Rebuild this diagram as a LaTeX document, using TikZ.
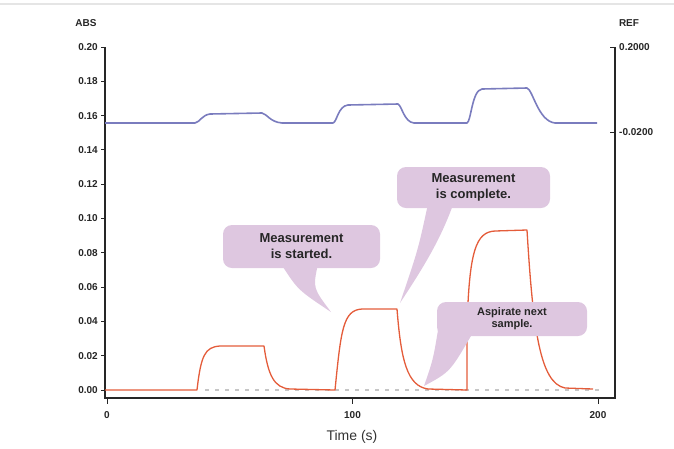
\documentclass[tikz,border=0pt]{standalone}
\usepackage{fontspec}
\setmainfont{Liberation Sans}
\usetikzlibrary{calc}

\definecolor{calloutpink}{RGB}{222,199,224}
\definecolor{refblue}{RGB}{122,124,190}
\definecolor{absred}{RGB}{228,92,58}

\begin{document}
\begin{tikzpicture}[
  x=1pt, y=-1pt,
  every node/.style={inner sep=1pt},
  ticklab/.style={font=\fontsize{10}{11}\selectfont\bfseries, text=black!85},
  axisline/.style={line width=1.4pt, black!85},
  tickmark/.style={line width=0.9pt, black!85},
  refline/.style={line width=1.6pt, refblue, line join=round},
  absline/.style={line width=1.3pt, absred, line join=round},
  callout/.style={fill=calloutpink, rounded corners=9pt, align=center, text=black!85,
    font=\fontsize{13}{16}\selectfont\bfseries},
  tail/.style={fill=calloutpink}
]
  \useasboundingbox (0,0) rectangle (674,448);
  \draw[gray!20, line width=1.5pt] (0,4) -- (674,4);

  % axes
  \draw[axisline] (105,47) -- (105,399);
  \draw[axisline] (615,47) -- (615,399);
  \draw[axisline, line width=2pt] (104,398) -- (616,398);
  \foreach \i/\lab in {0/0.00,1/0.02,2/0.04,3/0.06,4/0.08,5/0.10,6/0.12,7/0.14,8/0.16,9/0.18,10/0.20} {
    \draw[tickmark] (101,{390-34.3*\i}) -- (105,{390-34.3*\i});
    \node[ticklab, anchor=east] (ylab\i) at (99,{390-34.3*\i}) {\lab};
  }
  \foreach \t/\lab in {0/0,100/100,200/200} {
    \draw[tickmark] ({107+2.455*\t},398) -- ({107+2.455*\t},404);
    \node[ticklab] (xlab\t) at ({107+2.455*\t},415) {\lab};
  }
  \draw[tickmark] (610,47) -- (615,47);
  \draw[tickmark] (610,132) -- (615,132);
  \node[ticklab, anchor=west] (rlabtop) at (618,47) {0.2000};
  \node[ticklab, anchor=west] (rlabbot) at (618,132) {-0.0200};
  \node[ticklab] (abslab) at (86,23) {ABS};
  \node[ticklab] (reflab) at (629,23) {REF};
  \node[font=\fontsize{14}{16}\selectfont, text=black!80] (xtitle) at (352,437) {Time (s)};

  % REF trace
  \draw[refline] (105,123) -- (195,123) .. controls (200,122) and (202,115) .. (210,114)
    -- (262,113) .. controls (267,114) and (270,122) .. (282,123) -- (333,123)
    .. controls (337,122) and (338,106) .. (348,105) -- (398,104)
    .. controls (402,106) and (404,122) .. (414,123) -- (467,123)
    .. controls (471,122) and (472,90) .. (482,89) -- (527,88)
    .. controls (533,90) and (538,121) .. (555,123) -- (597,123);

  % ABS trace
  \draw[gray!45, line width=1.5pt, dash pattern=on 4pt off 6pt] (205,390) -- (600,390);
  \draw[absline] (105,390) -- (197,390)
    .. controls (201,355) and (205,347) .. (220,346) -- (264,346)
    .. controls (268,375) and (274,388) .. (290,389) -- (335,390)
    .. controls (341,330) and (343,310) .. (362,309) -- (397,309)
    .. controls (401,360) and (407,386) .. (428,389) -- (467,390)
    -- (467,330) .. controls (469,250) and (476,232) .. (495,231) -- (527,230)
    .. controls (533,330) and (540,383) .. (565,388) -- (593,389);

  % callouts
  \node[callout, minimum width=157pt, minimum height=43pt] (started) at (301.5,246.5) {Measurement\\is started.};
  \coordinate (startedtip) at (331,312);
  \fill[tail] ([xshift=-19pt,yshift=2pt]started.south) .. controls (298,290) .. (startedtip)
    .. controls (313,288) .. ([xshift=16pt,yshift=2pt]started.south) -- cycle;

  \node[callout, minimum width=153pt, minimum height=41pt] (complete) at (473.5,187.5) {Measurement\\is complete.};
  \coordinate (completetip) at (400,303);
  \fill[tail] ([xshift=-46pt,yshift=2pt]complete.south) .. controls (418,250) .. (completetip)
    .. controls (425,265) and (440,240) .. ([xshift=-21pt,yshift=2pt]complete.south) -- cycle;

  \node[callout, minimum width=150pt, minimum height=34pt, font=\fontsize{11}{12}\selectfont\bfseries] (aspirate) at (512,319) {Aspirate next\\sample.};
  \coordinate (aspiratetip) at (424,386);
  \fill[tail] ([xshift=-74pt,yshift=6pt]aspirate.south) .. controls (433,360) .. (aspiratetip)
    .. controls (450,372) .. ([xshift=-40pt,yshift=2pt]aspirate.south) -- cycle;
\end{tikzpicture}
\end{document}
